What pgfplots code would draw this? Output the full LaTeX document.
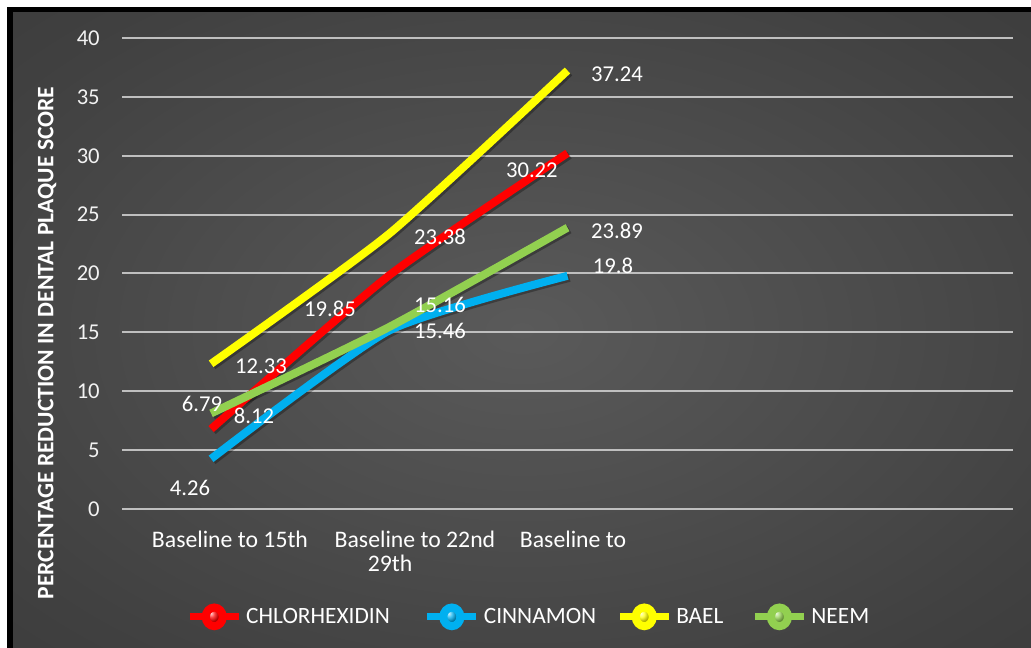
\documentclass[border=0pt]{standalone}
\usepackage{fontspec}
\setmainfont{Carlito}
\usepackage{pgfplots}
\pgfplotsset{compat=1.18}
\definecolor{bgin}{HTML}{5A5A5A}
\definecolor{bgmid}{HTML}{414141}
\definecolor{bgout}{HTML}{262626}
\definecolor{cred}{HTML}{FF0000}
\definecolor{cblue}{HTML}{00B0F0}
\definecolor{cyellow}{HTML}{FFFF00}
\definecolor{cgreen}{HTML}{92D050}
\definecolor{txt}{HTML}{F2F2F2}
\definecolor{grid}{HTML}{E6E6E6}
\pgfdeclareradialshading{bgshade}{\pgfpoint{0bp}{0bp}}{color(0bp)=(bgin); color(30bp)=(bgmid); color(72bp)=(bgout)}
\pgfplotsset{myleg/.style={legend image code/.code={%
  \draw[#1, line width=5.25pt] (0pt,0pt) -- (36.75pt,0pt);
  \shade[ball color=#1] (18.375pt,0pt) ellipse[x radius=6.4pt, y radius=7pt];}}}
\tikzset{
  lbl/.style={font=\fontsize{17}{20}\selectfont, text=white, inner sep=0pt},
  cat/.style={font=\fontsize{17.8}{20}\selectfont, text=white, inner sep=0pt, anchor=base},
}
\begin{document}
\begin{tikzpicture}[x=0.75pt,y=0.75pt]
\useasboundingbox (0,0) rectangle (1031,648);
\fill[white] (0,0) rectangle (1031,648);
\fill[black] (7,0) rectangle (1031,641);
\shade[shading=bgshade] (13,0) rectangle (1031,635);
\begin{axis}[
  at={(91.5pt,104.25pt)}, anchor=south west,
  scale only axis, width=668.25pt, height=353.25pt,
  xmin=-0.5, xmax=4.5, ymin=0, ymax=40,
  ytick={0,5,...,40}, xtick=\empty,
  axis line style={draw=none},
  ymajorgrids, grid style={grid, line width=1.5pt},
  major tick length=0pt,
  /pgf/number format/assume math mode=true,
  yticklabel style={font=\fontsize{17}{20}\selectfont, text=txt, inner sep=0pt, xshift=-16.5pt},
  clip=false,
  legend columns=4,
  legend cell align=left,
  legend style={at={(rel axis cs:0.0718,-0.229)}, anchor=west, draw=none, fill=none,
    inner sep=0pt, nodes={inner sep=0pt, text=white, font=\fontsize{17.5}{20}\selectfont},
    /tikz/every odd column/.append style={column sep=3pt},
    /tikz/column 2/.append style={column sep=25.5pt},
    /tikz/column 4/.append style={column sep=15pt},
    /tikz/column 6/.append style={column sep=21pt}},
]
% shadows
\addplot[black, opacity=0.3, line width=6pt, smooth, tension=0.35, xshift=1.5pt, yshift=-1.5pt, forget plot] coordinates {(0,6.79) (1,19.85) (2,30.22)};
\addplot[black, opacity=0.3, line width=6pt, smooth, tension=0.35, xshift=1.5pt, yshift=-1.5pt, forget plot] coordinates {(0,4.26) (1,15.16) (2,19.8)};
\addplot[black, opacity=0.3, line width=6pt, smooth, tension=0.35, xshift=1.5pt, yshift=-1.5pt, forget plot] coordinates {(0,12.33) (1,23.38) (2,37.24)};
\addplot[black, opacity=0.3, line width=6pt, smooth, tension=0.35, xshift=1.5pt, yshift=-1.5pt, forget plot] coordinates {(0,8.12) (1,15.46) (2,23.89)};
% series
\addplot[cred, line width=6pt, smooth, tension=0.35, myleg=cred] coordinates {(0,6.79) (1,19.85) (2,30.22)};
\addlegendentry{CHLORHEXIDIN}
\addplot[cblue, line width=6pt, smooth, tension=0.35, myleg=cblue] coordinates {(0,4.26) (1,15.16) (2,19.8)};
\addlegendentry{CINNAMON}
\addplot[cyellow, line width=6pt, smooth, tension=0.35, myleg=cyellow] coordinates {(0,12.33) (1,23.38) (2,37.24)};
\addlegendentry{BAEL}
\addplot[cgreen, line width=6pt, smooth, tension=0.35, myleg=cgreen] coordinates {(0,8.12) (1,15.46) (2,23.89)};
\addlegendentry{NEEM}
% data labels
\node[lbl] at (axis cs:-0.051,8.92) {6.79};
\node[lbl] at (axis cs:0.241,7.90) {8.12};
\node[lbl] at (axis cs:-0.118,1.78) {4.26};
\node[lbl] at (axis cs:0.28,12.14) {12.33};
\node[lbl] at (axis cs:0.667,16.99) {19.85};
\node[lbl] at (axis cs:1.284,17.32) {15.16};
\node[lbl] at (axis cs:1.284,15.12) {15.46};
\node[lbl] at (axis cs:1.284,23.1) {23.38};
\node[lbl] at (axis cs:2.278,36.94) {37.24};
\node[lbl] at (axis cs:1.80,28.79) {30.22};
\node[lbl] at (axis cs:2.278,23.61) {23.89};
\node[lbl] at (axis cs:2.255,20.64) {19.8};
% category labels
\node[cat] at (axis cs:0.106,-3.31) {Baseline to 15th};
\node[cat] at (axis cs:1.144,-3.31) {Baseline to 22nd};
\node[cat] at (axis cs:1.004,-5.35) {29th};
\node[cat] at (axis cs:2.031,-3.31) {Baseline to};
\end{axis}
\node[rotate=90, text=white, font=\bfseries\fontsize{17.7}{20}\selectfont, inner sep=0pt] at (47,305) {PERCENTAGE REDUCTION IN DENTAL PLAQUE SCORE};
\end{tikzpicture}
\end{document}
